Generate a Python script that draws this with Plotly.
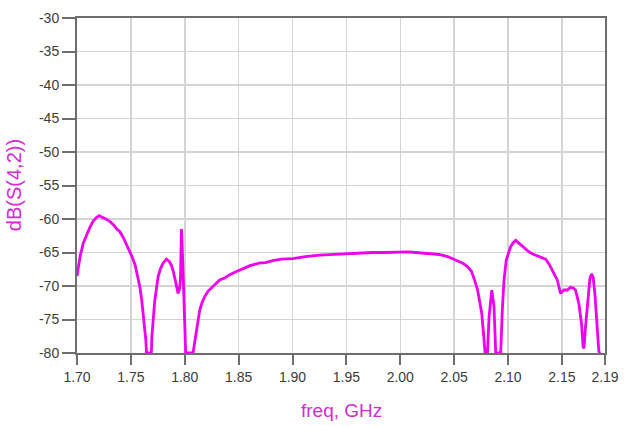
import plotly.graph_objects as go

freq_ghz = [
    1.700, 1.7015, 1.703, 1.7058, 1.708, 1.7105, 1.713, 1.7151, 1.718, 1.7207,
    1.724, 1.727, 1.7306, 1.734, 1.737, 1.7398, 1.743, 1.7475, 1.751, 1.754,
    1.756, 1.7583, 1.760, 1.7614, 1.7639, 1.7645, 1.7690, 1.7695, 1.7722, 1.7753,
    1.7775, 1.7799, 1.7830, 1.7855, 1.7876, 1.7895, 1.7907, 1.7925, 1.7938, 1.7950,
    1.7960, 1.7965, 1.7969, 1.7975, 1.7985, 1.7991, 1.8000, 1.8009, 1.8077, 1.8090,
    1.8102, 1.8120, 1.8139, 1.8160, 1.8185, 1.8215, 1.8247, 1.8285, 1.8324, 1.8370,
    1.8417, 1.847, 1.8525, 1.860, 1.8688, 1.875, 1.8818, 1.890, 1.9003, 1.912,
    1.925, 1.937, 1.9497, 1.962, 1.9744, 1.987, 1.999, 2.007, 2.0145, 2.025,
    2.036, 2.044, 2.0515, 2.0580, 2.0623, 2.0660, 2.0685, 2.0716, 2.0731, 2.0756,
    2.0778, 2.0787, 2.0809, 2.0824, 2.0849, 2.0870, 2.0886, 2.0932, 2.0947, 2.0963,
    2.0984, 2.1005, 2.1025, 2.1050, 2.1071, 2.1100, 2.1133, 2.1165, 2.1194, 2.1240,
    2.1287, 2.1320, 2.1349, 2.1380, 2.141, 2.1457, 2.1488, 2.1505, 2.1519, 2.155,
    2.158, 2.1605, 2.1626, 2.1657, 2.1682, 2.1697, 2.1705, 2.1719, 2.1744, 2.1760,
    2.1775, 2.1790, 2.1806, 2.1828, 2.1843, 2.1855,
]
s42_db = [
    -68.5, -67.0, -65.5, -63.6, -62.6, -61.8, -60.9, -60.3, -59.8, -59.5,
    -59.8, -60.0, -60.4, -60.9, -61.5, -61.9, -62.8, -64.3, -65.6, -66.9,
    -68.3, -70.1, -72.0, -74.1, -78.1, -80.0, -80.0, -77.5, -72.1, -68.6,
    -67.4, -66.6, -66.0, -66.3, -66.9, -67.9, -68.9, -70.3, -71.1, -70.5,
    -69.1, -65.0, -61.5, -63.5, -69.0, -72.1, -76.5, -80.0, -80.0, -78.5,
    -77.1, -75.0, -73.6, -72.5, -71.6, -70.8, -70.3, -69.7, -69.1, -68.8,
    -68.3, -67.9, -67.5, -67.0, -66.6, -66.5, -66.2, -66.0, -65.9, -65.6,
    -65.4, -65.3, -65.1, -65.1, -65.0, -65.0, -64.9, -64.9, -65.0, -65.1,
    -65.3, -65.6, -66.1, -66.6, -67.1, -67.8, -68.9, -70.5, -71.8, -74.1,
    -78.1, -80.0, -80.0, -74.6, -70.6, -73.1, -80.0, -80.0, -73.6, -69.1,
    -66.1, -64.9, -64.1, -63.5, -63.2, -63.6, -64.1, -64.6, -64.9, -65.3,
    -65.6, -65.8, -66.0, -66.7, -67.6, -69.1, -71.1, -70.8, -70.6, -70.6,
    -70.2, -70.3, -70.6, -72.6, -75.6, -79.1, -79.3, -76.1, -71.1, -68.9,
    -68.2, -68.7, -71.1, -76.1, -79.8, -80.0,
]

x_tickvals = [1.70, 1.75, 1.80, 1.85, 1.90, 1.95, 2.00, 2.05, 2.10, 2.15, 2.19]
x_ticktext = ["1.70", "1.75", "1.80", "1.85", "1.90", "1.95", "2.00", "2.05", "2.10", "2.15", "2.19"]
y_tickvals = [-30, -35, -40, -45, -50, -55, -60, -65, -70, -75, -80]
y_ticktext = ["-30", "-35", "-40", "-45", "-50", "-55", "-60", "-65", "-70", "-75", "-80"]

MAGENTA = "#ee00ee"
TEXT_MAG = "#d52ad5"
AXIS = "#6e6e6e"
GRID = "#d4d4d4"
FONT = "Liberation Sans, Arial, sans-serif"

fig = go.Figure()
fig.add_trace(go.Scatter(
    x=freq_ghz, y=s42_db, mode="lines",
    line=dict(color=MAGENTA, width=2.8),
    hoverinfo="skip", showlegend=False,
))

fig.update_layout(
    width=624, height=426,
    margin=dict(l=77, r=19, t=18, b=73, autoexpand=False),
    paper_bgcolor="white", plot_bgcolor="white",
    font=dict(family=FONT, size=14, color="#3c3c3c"),
    showlegend=False,
)
fig.update_xaxes(
    range=[1.70, 2.19], tickvals=x_tickvals, ticktext=x_ticktext,
    showgrid=True, gridcolor=GRID, gridwidth=1.5,
    showline=True, linecolor=AXIS, linewidth=2, mirror=True,
    ticks="outside", ticklen=10, tickwidth=2, tickcolor=AXIS,
    tickfont=dict(family=FONT, size=14, color="#3c3c3c"),
    zeroline=False, layer="below traces", automargin=False,
)
fig.update_yaxes(
    range=[-80, -30], tickvals=y_tickvals, ticktext=y_ticktext,
    showgrid=True, gridcolor=GRID, gridwidth=1.5,
    showline=True, linecolor=AXIS, linewidth=2, mirror=True,
    ticks="outside", ticklen=13, tickwidth=2, tickcolor=AXIS,
    tickfont=dict(family=FONT, size=14, color="#3c3c3c"),
    zeroline=False, layer="below traces", automargin=False,
)
fig.add_annotation(
    text="freq, GHz", xref="paper", yref="paper", x=0.5, y=-0.173,
    xanchor="center", yanchor="middle", showarrow=False,
    font=dict(family=FONT, size=19, color=TEXT_MAG),
)
fig.add_annotation(
    text="dB(S(4,2))", xref="paper", yref="paper", x=-0.12, y=0.5,
    xanchor="center", yanchor="middle", showarrow=False, textangle=-90,
    font=dict(family=FONT, size=20, color=TEXT_MAG),
)

fig.write_html(
    "out.html",
    config={"displayModeBar": False, "staticPlot": True},
    post_script="document.body.style.margin='0px';document.body.style.overflow='hidden';",
)
